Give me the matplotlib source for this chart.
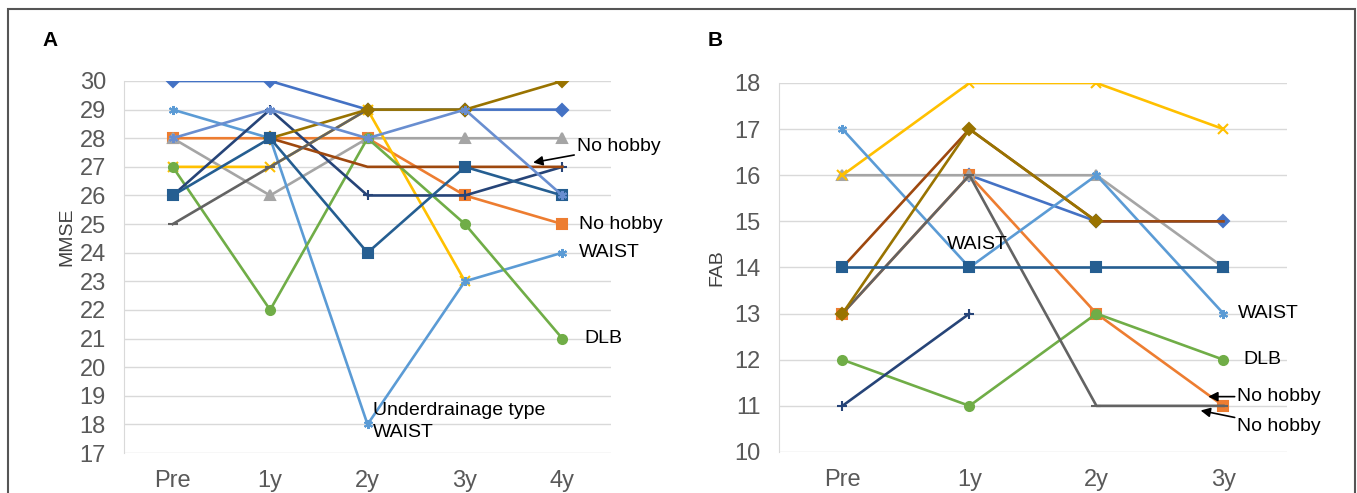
import matplotlib.pyplot as plt
import numpy as np
from matplotlib.patches import Rectangle

plt.rcParams['font.family'] = ['Liberation Sans', 'DejaVu Sans']
nan = np.nan

# MMSE 变化 (A)
time_a = ['Pre', '1y', '2y', '3y', '4y']
mmse_blue = [30, 30, 29, 29, 29]
mmse_orange = [28, 28, 28, 26, 25]
mmse_gray = [28, 26, 28, 28, 28]
mmse_yellow = [27, 27, 29, 23, nan]
mmse_lightblue = [29, 28, 18, 23, 24]
mmse_green = [27, 22, 28, 25, 21]
mmse_navy = [26, 29, 26, 26, 27]
mmse_brown = [nan, 28, 27, 27, 27]
mmse_darkgray = [25, 27, 29, nan, nan]
mmse_olive = [nan, 28, 29, 29, 30]
mmse_steel = [26, 28, 24, 27, 26]
mmse_skyblue = [28, 29, 28, 29, 26]

# FAB 变化 (B)
time_b = ['Pre', '1y', '2y', '3y']
fab_blue = [nan, 16, 15, 15]
fab_orange = [13, 16, 13, 11]
fab_gray = [16, 16, 16, 14]
fab_yellow = [16, 18, 18, 17]
fab_lightblue = [17, 14, 16, 13]
fab_green = [12, 11, 13, 12]
fab_navy = [11, 13, nan, nan]
fab_brown = [14, 17, 15, 15]
fab_darkgray = [13, 16, 11, 11]
fab_olive = [13, 17, 15, nan]
fab_steel = [14, 14, 14, 14]

star = (6, 2, 0)
styles = [('#4472C4', 'D'), ('#ED7D31', 's'), ('#A5A5A5', '^'), ('#FFC000', 'x'),
          ('#5B9BD5', star), ('#70AD47', 'o'), ('#264478', '+'), ('#9E480E', None),
          ('#636363', '_'), ('#997300', 'D'), ('#255E91', 's'), ('#698ED0', star)]

series_a = [mmse_blue, mmse_orange, mmse_gray, mmse_yellow, mmse_lightblue, mmse_green,
            mmse_navy, mmse_brown, mmse_darkgray, mmse_olive, mmse_steel, mmse_skyblue]
series_b = [fab_blue, fab_orange, fab_gray, fab_yellow, fab_lightblue, fab_green,
            fab_navy, fab_brown, fab_darkgray, fab_olive, fab_steel]

fig = plt.figure(figsize=(13.57, 4.93), dpi=100)
ax1 = fig.add_axes([0.0914, 0.0811, 0.3589, 0.7546])
ax2 = fig.add_axes([0.574, 0.0832, 0.3744, 0.7485])


def draw(ax, labels, series, ymin, ymax, ylabel, ly):
    x = np.arange(len(labels))
    for vals, (c, m) in zip(series, styles):
        ax.plot(x, vals, color=c, lw=1.9, marker=m, ms=6.5, mew=1.5, zorder=3)
    ax.set_xlim(-0.5, len(labels) - 0.5)
    ax.set_ylim(ymin, ymax)
    ax.set_yticks(range(ymin, ymax + 1))
    ax.set_xticks(x)
    ax.set_xticklabels(labels)
    ax.grid(axis='y', color='#D9D9D9', lw=1)
    ax.set_axisbelow(True)
    for s in ['top', 'right', 'bottom']:
        ax.spines[s].set_visible(False)
    ax.spines['left'].set_color('#D9D9D9')
    ax.tick_params(axis='both', length=0, labelsize=17, labelcolor='#595959')
    ax.tick_params(axis='y', pad=13)
    ax.tick_params(axis='x', pad=12)
    ax.set_ylabel(ylabel, fontsize=14, color='#404040')
    ax.yaxis.set_label_coords(ly[0], ly[1])


draw(ax1, time_a, series_a, 17, 30, 'MMSE', (-0.10, 0.58))
draw(ax2, time_b, series_b, 10, 18, 'FAB', (-0.105, 0.5))

fs = 14
# A 注释
ax1.annotate('No hobby', xy=(3.7, 27.15), xytext=(4.15, 27.7), fontsize=fs,
             va='center', arrowprops=dict(arrowstyle='-|>', color='black', lw=1.2, shrinkA=0, shrinkB=0))
ax1.text(4.17, 25.0, 'No hobby', fontsize=fs, va='center')
ax1.text(4.17, 24.0, 'WAIST', fontsize=fs, va='center')
ax1.text(4.23, 21.0, 'DLB', fontsize=fs, va='center')
ax1.text(2.06, 18.5, 'Underdrainage type', fontsize=fs, va='center')
ax1.text(2.06, 17.7, 'WAIST', fontsize=fs, va='center')

# B 注释
ax2.text(0.82, 14.5, 'WAIST', fontsize=fs, va='center')
ax2.text(3.11, 13.0, 'WAIST', fontsize=fs, va='center')
ax2.text(3.16, 12.0, 'DLB', fontsize=fs, va='center')
ax2.annotate('No hobby', xy=(2.88, 11.2), xytext=(3.11, 11.2), fontsize=fs,
             va='center', arrowprops=dict(arrowstyle='-|>', color='black', lw=1.2, shrinkA=0, shrinkB=0))
ax2.annotate('No hobby', xy=(2.82, 10.9), xytext=(3.11, 10.55), fontsize=fs,
             va='center', arrowprops=dict(arrowstyle='-|>', color='black', lw=1.2, shrinkA=0, shrinkB=0))

fig.text(50 / 1357, 1 - 40 / 493, 'A', fontsize=15, fontweight='bold', va='center', ha='center')
fig.text(715 / 1357, 1 - 40 / 493, 'B', fontsize=15, fontweight='bold', va='center', ha='center')

fig.patches.append(Rectangle((8 / 1357, -0.05), 1347 / 1357, 1.05 - 9 / 493,
                             transform=fig.transFigure, fill=False, ec='#555555', lw=1.5))

fig.savefig('out.png', dpi=100)
